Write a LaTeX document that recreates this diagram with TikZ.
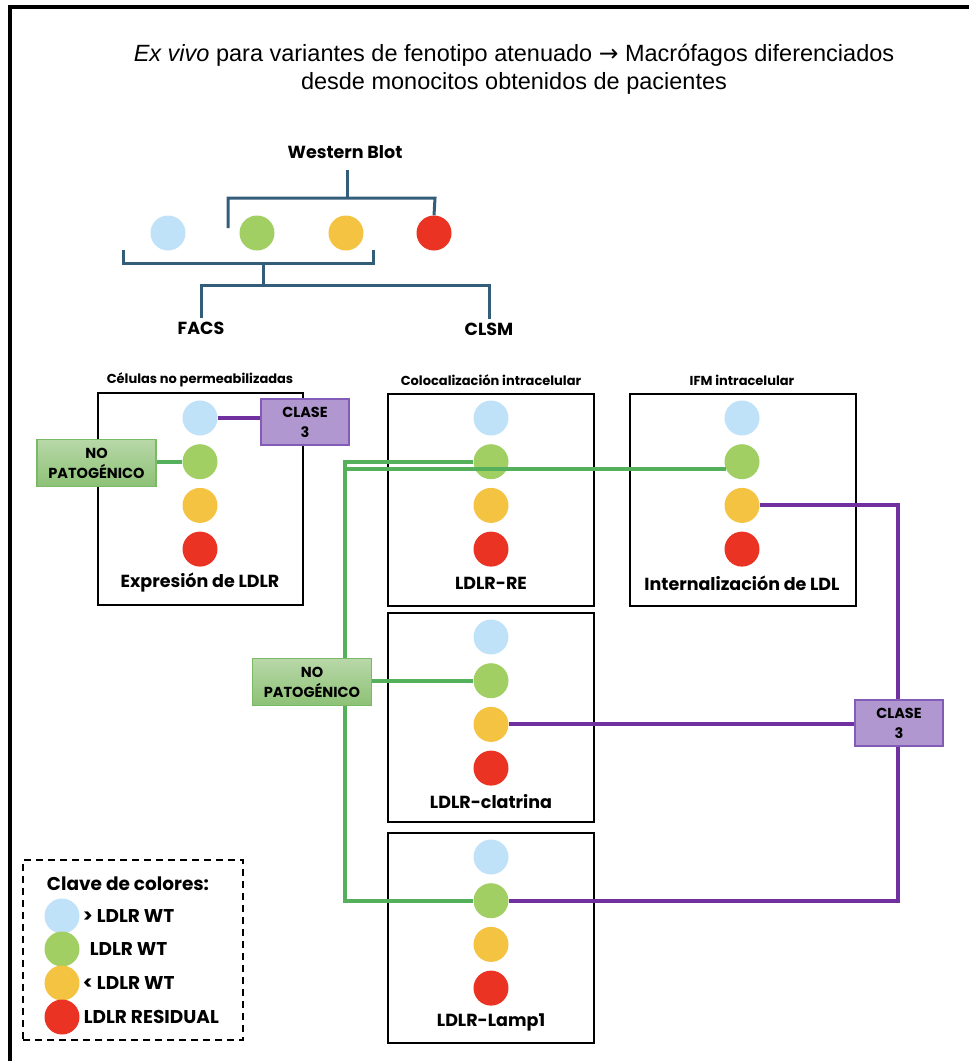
\documentclass[tikz,border=0pt]{standalone}
\usepackage{fontspec}
\setmainfont{Liberation Sans}
\newfontfamily\popfont{Poppins}
\newfontfamily\flechafont{DejaVu Sans}
\usepackage{xcolor}
\usepackage{tikz}
\usetikzlibrary{positioning}

\definecolor{azul}{RGB}{192,226,249}
\definecolor{verde}{RGB}{161,207,99}
\definecolor{amarillo}{RGB}{245,195,66}
\definecolor{rojo}{RGB}{234,51,35}
\definecolor{lineav}{RGB}{84,176,90}
\definecolor{lineam}{RGB}{112,48,160}
\definecolor{lila}{RGB}{176,151,208}
\definecolor{bordem}{RGB}{130,92,182}
\definecolor{verdeA}{RGB}{184,216,168}
\definecolor{verdeB}{RGB}{141,193,118}
\definecolor{bordev}{RGB}{122,186,102}
\definecolor{arbolc}{RGB}{52,93,122}

\begin{document}
\begin{tikzpicture}[x=1pt,y=-1pt,line join=miter,
		font=\popfont\bfseries\fontsize{17.5}{20}\selectfont]
		\tikzstyle{dot}=[circle,minimum size=35pt,inner sep=0pt]
		\tikzstyle{caja}=[draw=black,line width=2pt,minimum width=205pt,minimum height=212pt]
		\tikzstyle{subt}=[font=\popfont\bfseries\fontsize{13}{15}\selectfont]
		\tikzstyle{arbol}=[draw=arbolc,line width=3pt]
		\tikzstyle{verdel}=[draw=lineav,line width=4pt]
		\tikzstyle{moradol}=[draw=lineam,line width=4pt]
		\tikzstyle{clase}=[draw=bordem,fill=lila,line width=1.2pt,minimum width=88pt,
			minimum height=46pt,align=center,font=\popfont\bfseries\fontsize{14.5}{20}\selectfont]
		\tikzstyle{nopat}=[draw=bordev,top color=verdeA,bottom color=verdeB,line width=1.2pt,
			minimum width=119pt,minimum height=47pt,align=center,inner sep=1pt,
			font=\popfont\bfseries\fontsize{14.5}{20}\selectfont]
		\tikzstyle{leyenda}=[font=\popfont\bfseries\fontsize{18.5}{20}\selectfont,inner sep=1pt]
		
		\useasboundingbox (0,0) rectangle (969,1061);
		\draw[line width=4pt] (10,1061) -- (10,6.5) -- (969,6.5);
		
		\node[font=\fontsize{23.5}{28}\selectfont,align=center] (titulo) at (514,69)
			{\textit{Ex vivo} para variantes de fenotipo atenuado {\flechafont→} Macrófagos diferenciados\\
			desde monocitos obtenidos de pacientes};
		
		% Western Blot
		\node (WB) at (345,152) {Western Blot};
		\node[dot,fill=azul]     (T1) at (168,233) {};
		\node[dot,fill=verde]    (T2) at (257,233) {};
		\node[dot,fill=amarillo] (T3) at (346,233) {};
		\node[dot,fill=rojo]     (T4) at (434,233) {};
		\node (FACS) at (201,328) {FACS};
		\node (CLSM) at (489,329) {CLSM};
		\coordinate (wb) at (347,170);
		\coordinate (ra) at (228,228);
		\coordinate (rb) at (435,198);
		\coordinate (ca) at (123,250);
		\coordinate (cb) at (373,250);
		\coordinate (cc) at (263,263);
		\coordinate (cd) at (263,285);
		\draw[arbol] (wb) -- (wb |- rb);
		\draw[arbol] (ra) |- (rb) -- (T4.north);
		\draw[arbol] (ca) |- (cc) -| (cb);
		\draw[arbol] (cc) -- (cd);
		\draw[arbol] (FACS.north) |- (cd) -| (CLSM.north);
		
		% cajas
		\node[caja] (cajaE) at (200.5,499) {};
		\node[caja,minimum width=206pt] (cajaRE) at (491,500) {};
		\node[caja,minimum width=226pt] (cajaIFM) at (743,500) {};
		\node[caja,minimum width=206pt,minimum height=209pt] (cajaCL) at (491,717.5) {};
		\node[caja,minimum width=206pt,minimum height=210pt] (cajaLA) at (491,938) {};
		
		\node[subt] (tE) at (200,380) {Células no permeabilizadas};
		\node[subt] (tRE) at (491,380) {Colocalización intracelular};
		\node[subt] (tIFM) at (742,380) {IFM intracelular};
		
		\node (nE) at (200,583) {Expresión de LDLR};
		\node (nRE) at (491,583) {LDLR-RE};
		\node (nIFM) at (742,583) {Internalización de LDL};
		\node (nCL) at (491,802) {LDLR-clatrina};
		\node (nLA) at (491,1022) {LDLR-Lamp1};
		
		\foreach \n/\x/\y in {E/200/418, RE/491/418, IFM/742/418, CL/491/637, LA/491/857} {
			\node[dot,fill=azul]     (\n1) at (\x,\y) {};
			\node[dot,fill=verde]    (\n2) at (\x,\y+43.7) {};
			\node[dot,fill=amarillo] (\n3) at (\x,\y+87.4) {};
			\node[dot,fill=rojo]     (\n4) at (\x,\y+131.1) {};
		}
		
		% conexiones
		\coordinate (gx) at (345,0);
		\coordinate (px) at (898,0);
		\draw[verdel] (RE2.west) -| (gx |- LA2) -- (LA2.west);
		\draw[verdel] (IFM2.205) -| (gx |- LA2);
		\draw[moradol] (IFM3.east) -| (px |- LA2) -- (LA2.east);
		
		\node[clase] (clase1) at (305,422) {CLASE\\3};
		\node[clase] (clase2) at (899,723) {CLASE\\3};
		\node[nopat] (nopat1) at (96.5,463) {NO\\PATOGÉNICO};
		\node[nopat] (nopat2) at (312,682) {NO\\PATOGÉNICO};
		
		\draw[moradol] (E1.east) -- (E1 -| clase1.west);
		\draw[moradol] (CL3.east) -- (CL3 -| clase2.west);
		\draw[verdel] (E2 -| nopat1.east) -- (E2.west);
		\draw[verdel] (CL2 -| nopat2.east) -- (CL2.west);
		
		% clave de colores
		\node[draw,line width=1.5pt,dash pattern=on 7pt off 5pt,minimum width=220pt,
			minimum height=180pt] (clave) at (133,950) {};
		\node[leyenda] (tclave) at (128,884) {Clave de colores:};
		\node[dot,fill=azul]     (K1) at (62,916) {};
		\node[dot,fill=verde]    (K2) at (62,949) {};
		\node[dot,fill=amarillo] (K3) at (62,983) {};
		\node[dot,fill=rojo]     (K4) at (62,1017) {};
		\node[leyenda,right=2pt of K1] (k1) {> LDLR WT};
		\node[leyenda,right=9pt of K2] (k2) {LDLR WT};
		\node[leyenda,right=2pt of K3] (k3) {< LDLR WT};
		\node[leyenda,right=3pt of K4] (k4) {LDLR RESIDUAL};
		
\end{tikzpicture}
\end{document}
